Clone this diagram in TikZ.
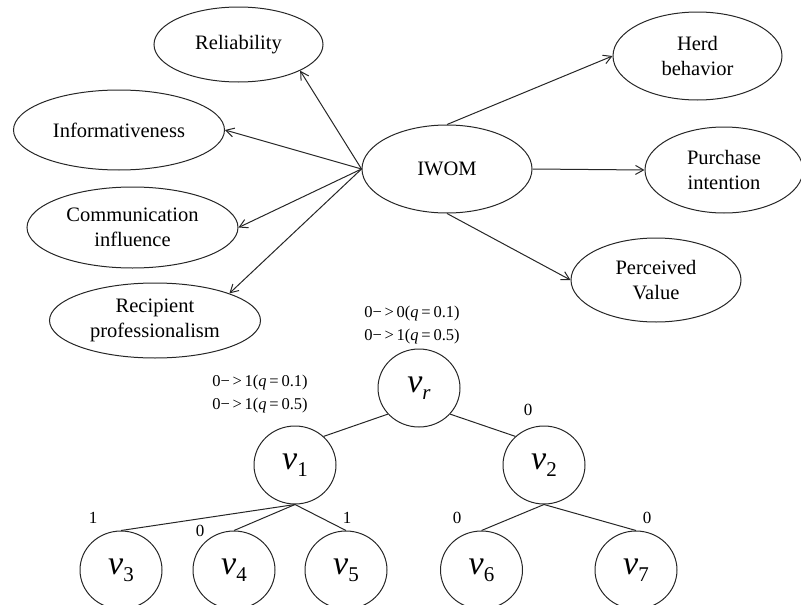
\documentclass[tikz,border=0pt]{standalone}
\usepackage{fontspec}
\setmainfont{Liberation Serif}
\usetikzlibrary{arrows.meta,positioning,shapes.geometric}

\newcommand{\vlab}[1]{{\fontsize{34}{34}\selectfont\textit{v}}\raisebox{-7pt}{\fontsize{21}{21}\selectfont #1}}
\newcommand{\trans}[2]{0−\,>\,#1(\textit{q}\,=\,#2)}

\begin{document}
\begin{tikzpicture}[x=1pt,y=-1pt,>={Straight Barb[length=8pt,width=9pt]},
    concept/.style={ellipse,draw=black!85,line width=1pt,inner sep=0pt,align=center,font=\fontsize{20.5}{25}\selectfont},
    vertex/.style={ellipse,draw=black!85,line width=1pt,minimum width=82pt,minimum height=78pt,inner sep=0pt},
    link/.style={->,draw=black!85,line width=1pt},
    branch/.style={draw=black!85,line width=1pt},
    note/.style={inner sep=0pt,font=\fontsize{16.5}{16.5}\selectfont},
    bit/.style={inner sep=0pt,font=\fontsize{17}{17}\selectfont}]
    \useasboundingbox (0,0) rectangle (801,605);

    % concept map
    \node[concept,minimum width=169pt,minimum height=75pt] (rel) at (238.5,44.5) {Reliability};
    \node[concept,minimum width=211pt,minimum height=80pt] (info) at (119,130) {Informativeness};
    \node[concept,minimum width=211pt,minimum height=81pt] (comm) at (132.5,227.5) {Communication\\influence};
    \node[concept,minimum width=211pt,minimum height=75pt] (reci) at (155,320.5) {Recipient\\professionalism};
    \node[concept,minimum width=170pt,minimum height=88pt] (iwom) at (447,169) {IWOM};
    \node[concept,minimum width=169pt,minimum height=88pt] (herd) at (697.5,56) {Herd\\behavior};
    \node[concept,minimum width=158pt,minimum height=86pt] (purch) at (724,170) {Purchase\\intention};
    \node[concept,minimum width=170pt,minimum height=84pt] (perc) at (656,280) {Perceived\\Value};

    \draw[link] (iwom.west) -- (rel.-23);
    \draw[link] (iwom.west) -- (info.east);
    \draw[link] (iwom.west) -- (comm.east);
    \draw[link] (iwom.west) -- (reci.20);
    \draw[link] (iwom.north) -- (herd.west);
    \draw[link] (iwom.east) -- (purch.west);
    \draw[link] (iwom.south) -- (perc.west);

    % tree
    \node[vertex] (vr) at (419,388) {\vlab{\textit{r}}};
    \node[vertex] (v1) at (295,465) {\vlab{1}};
    \node[vertex] (v2) at (544,465) {\vlab{2}};
    \node[vertex] (v3) at (121,570) {\vlab{3}};
    \node[vertex] (v4) at (234,570) {\vlab{4}};
    \node[vertex] (v5) at (346,570) {\vlab{5}};
    \node[vertex] (v6) at (481.5,570) {\vlab{6}};
    \node[vertex] (v7) at (636,570) {\vlab{7}};

    \node[note] (qr1) at (412,314) {\trans{0}{0.1}};
    \node[note] (qr2) at (412,337) {\trans{1}{0.5}};
    \node[note] (q11) at (260,383) {\trans{1}{0.1}};
    \node[note] (q12) at (260,406) {\trans{1}{0.5}};

    \node[bit] (lab2) at (528,410) {0};
    \node[bit] (lab3) at (93,518) {1};
    \node[bit] (lab4) at (200,531) {0};
    \node[bit] (lab5) at (347,518) {1};
    \node[bit] (lab6) at (457,518) {0};
    \node[bit] (lab7) at (647,518) {0};

    \draw[branch] (vr.220) -- (v1.45);
    \draw[branch] (vr.-40) -- (v2.135);
    \draw[branch] (v1.south) -- (v3.north);
    \draw[branch] (v1.south) -- (v4.north);
    \draw[branch] (v1.south) -- (v5.north);
    \draw[branch] (v2.south) -- (v6.north);
    \draw[branch] (v2.south) -- (v7.north);
\end{tikzpicture}
\end{document}
